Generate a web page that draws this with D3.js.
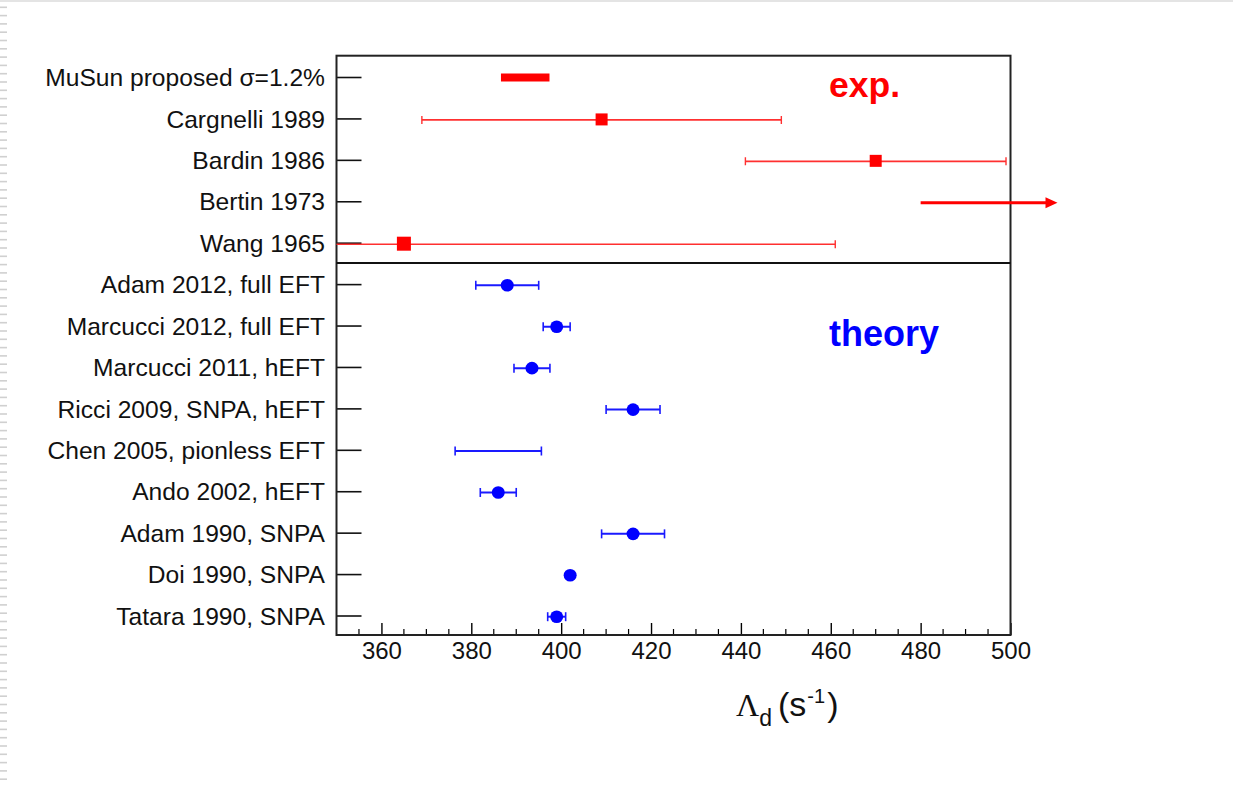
<!DOCTYPE html>
<html>
<head>
<meta charset="utf-8">
<script src="https://cdn.jsdelivr.net/npm/d3@7"></script>
<style>
  html, body { margin: 0; padding: 0; background: #fff; }
  svg { display: block; }
  text { font-family: "Liberation Sans", Arial, Helvetica, sans-serif; }
</style>
</head>
<body>
<svg id="chart" width="1233" height="785"></svg>
<script>
// ---------- data ----------
const expLabels = ["MuSun proposed σ=1.2%", "Cargnelli 1989", "Bardin 1986", "Bertin 1973", "Wang 1965"];
const expValues = [392, 409, 470, 480, 365];      // Bertin 1973: lower limit (arrow)
const expErrors = [5.4, 40, 29, 0, 96];
const expKind   = ["band", "point", "point", "limit", "point"];

const theoryLabels = ["Adam 2012, full EFT", "Marcucci 2012, full EFT", "Marcucci 2011, hEFT",
  "Ricci 2009, SNPA, hEFT", "Chen 2005, pionless EFT", "Ando 2002, hEFT",
  "Adam 1990, SNPA", "Doi 1990, SNPA", "Tatara 1990, SNPA"];
const theoryValues = [388, 399, 393.5, 416, 386, 386, 416, 402, 399];
const theoryErrors = [7, 3, 4, 6, 9.6, 4, 7, 0, 2];
const theoryMarker = [true, true, true, true, false, true, true, true, true];

const xTicks = [360, 380, 400, 420, 440, 460, 480, 500];
const xDomain = [350, 500];

// ---------- layout ----------
const svg = d3.select("#chart");
const frame = { left: 336.5, right: 1010.5, top: 55.7, bottom: 635 };
const allLabels = expLabels.concat(theoryLabels);

const x = d3.scaleLinear().domain(xDomain).range([frame.left, frame.right]);
const y = d3.scalePoint().domain(allLabels).range([77, 615.5]);

// decoration of the source slide: top rule and left dashed strip
svg.append("rect").attr("x", 0).attr("y", 0).attr("width", 1233).attr("height", 2).attr("fill", "#e4e4e4");
svg.append("g").selectAll("rect").data(d3.range(0, 785, 8.3)).join("rect")
  .attr("x", 0).attr("y", d => d + 6.5).attr("width", 7).attr("height", 1.6).attr("fill", "#d0d0d0");

const clipId = "plotclip";
svg.append("clipPath").attr("id", clipId).append("rect")
  .attr("x", frame.left).attr("y", frame.top)
  .attr("width", frame.right - frame.left).attr("height", frame.bottom - frame.top);

// ---------- axes ----------
const minorTicks = d3.range(355, 501, 5).filter(v => !xTicks.includes(v));
const axisG = svg.append("g");
axisG.selectAll("line.minor").data(minorTicks).join("line")
  .attr("x1", d => x(d)).attr("x2", d => x(d))
  .attr("y1", frame.bottom).attr("y2", frame.bottom - 6)
  .attr("stroke", "#000").attr("stroke-width", 1.2);
const xAxis = d3.axisBottom(x).tickValues(xTicks).tickSizeInner(-12).tickSizeOuter(0).tickPadding(16);
const gx = svg.append("g").attr("transform", `translate(0,${frame.bottom})`).call(xAxis);
gx.select(".domain").remove();
gx.selectAll(".tick line").attr("stroke", "#000").attr("stroke-width", 1.4);
gx.selectAll(".tick text").attr("font-size", 24).attr("fill", "#111")
  .attr("font-family", "Liberation Sans, Arial, sans-serif").attr("dy", "0.42em").attr("y", 14);

const yAxis = d3.axisLeft(y).tickSizeInner(-25).tickSizeOuter(0).tickPadding(12);
const gy = svg.append("g").attr("transform", `translate(${frame.left},0)`).call(yAxis);
gy.select(".domain").remove();
gy.selectAll(".tick line").attr("stroke", "#111").attr("stroke-width", 1.6);
gy.selectAll(".tick text").attr("font-size", 24.6).attr("fill", "#111")
  .attr("font-family", "Liberation Sans, Arial, sans-serif")
  .attr("x", -(frame.left - 325)).attr("dy", "0.35em");

// frame and divider
svg.append("rect").attr("x", frame.left).attr("y", frame.top)
  .attr("width", frame.right - frame.left).attr("height", frame.bottom - frame.top)
  .attr("fill", "none").attr("stroke", "#222").attr("stroke-width", 2);
const divY = (y(expLabels[expLabels.length - 1]) + y(theoryLabels[0])) / 2 - 0.5;
svg.append("line").attr("x1", frame.left).attr("x2", frame.right)
  .attr("y1", divY).attr("y2", divY).attr("stroke", "#111").attr("stroke-width", 2);

// ---------- experiment marks ----------
const red = "#ff0000";
const expData = expLabels.map((l, i) => ({ label: l, v: expValues[i], e: expErrors[i], kind: expKind[i] }));
const eg = svg.append("g").attr("clip-path", `url(#${clipId})`);

expData.filter(d => d.kind === "band").forEach(d => {
  eg.append("rect").attr("x", x(d.v - d.e)).attr("width", x(d.v + d.e) - x(d.v - d.e))
    .attr("y", y(d.label) - 3.5).attr("height", 8).attr("fill", red);
});
const expPts = expData.filter(d => d.kind === "point");
eg.selectAll("line.eb").data(expPts).join("line")
  .attr("x1", d => x(d.v - d.e)).attr("x2", d => x(d.v + d.e))
  .attr("y1", d => y(d.label) + 1.5).attr("y2", d => y(d.label) + 1.5)
  .attr("stroke", "#ff3030").attr("stroke-width", 1.6);
expPts.forEach(d => {
  [d.v - d.e, d.v + d.e].forEach(v => {
    eg.append("line").attr("x1", x(v)).attr("x2", x(v))
      .attr("y1", y(d.label) + 1.5 - 4).attr("y2", y(d.label) + 1.5 + 4)
      .attr("stroke", "#ff3030").attr("stroke-width", 1.4);
  });
});
eg.selectAll("rect.mk").data(expPts).join("rect")
  .attr("x", d => x(d.v) - (d.e > 60 ? 7 : 6)).attr("y", d => y(d.label) + 1 - (d.e > 60 ? 7 : 6))
  .attr("width", d => d.e > 60 ? 14 : 12).attr("height", d => d.e > 60 ? 14 : 12)
  .attr("fill", red);

expData.filter(d => d.kind === "limit").forEach(d => {
  const yy = y(d.label) + 1.5;
  const x0 = x(d.v), x1 = x(xDomain[1]) + 47;
  svg.append("line").attr("x1", x0).attr("x2", x1 - 8).attr("y1", yy).attr("y2", yy)
    .attr("stroke", red).attr("stroke-width", 3);
  svg.append("path").attr("d", `M${x1},${yy} L${x1 - 12},${yy - 5.5} L${x1 - 12},${yy + 5.5} Z`)
    .attr("fill", red);
});

// ---------- theory marks ----------
const blue = "#0000ff";
const thData = theoryLabels.map((l, i) => ({ label: l, v: theoryValues[i], e: theoryErrors[i], m: theoryMarker[i] }));
const tg = svg.append("g").attr("clip-path", `url(#${clipId})`);
const thErr = thData.filter(d => d.e > 0);
tg.selectAll("line.eb").data(thErr).join("line")
  .attr("x1", d => x(d.v - d.e)).attr("x2", d => x(d.v + d.e))
  .attr("y1", d => y(d.label) + 1.2).attr("y2", d => y(d.label) + 1.2)
  .attr("stroke", "#1a1aff").attr("stroke-width", 2);
thErr.forEach(d => {
  [d.v - d.e, d.v + d.e].forEach(v => {
    tg.append("line").attr("x1", x(v)).attr("x2", x(v))
      .attr("y1", y(d.label) + 1.2 - 4.5).attr("y2", y(d.label) + 1.2 + 4.5)
      .attr("stroke", "#1a1aff").attr("stroke-width", 1.6);
  });
});
tg.selectAll("ellipse.mk").data(thData.filter(d => d.m)).join("ellipse")
  .attr("cx", d => x(d.v)).attr("cy", d => y(d.label) + 1.2)
  .attr("rx", 6.5).attr("ry", 6.3).attr("fill", blue);

// ---------- annotations ----------
svg.append("text").attr("x", 829).attr("y", 97).attr("font-size", 35.5).attr("font-weight", "bold")
  .attr("fill", red).text("exp.");
svg.append("text").attr("x", 829).attr("y", 346).attr("font-size", 36).attr("font-weight", "bold")
  .attr("fill", blue).text("theory");

// x-axis title
const t = svg.append("text").attr("x", 736).attr("y", 716).attr("fill", "#111").attr("font-size", 34);
t.append("tspan").attr("font-family", "Liberation Serif, Times New Roman, serif").attr("font-size", 32).text("Λ");
t.append("tspan").attr("font-size", 23).attr("dy", 10).text("d");
t.append("tspan").attr("dx", 6).attr("dy", -10).text("(s");
t.append("tspan").attr("font-size", 20).attr("dy", -13).attr("dx", 1).text("-1");
t.append("tspan").attr("dy", 13).attr("dx", 2).text(")");
</script>
</body>
</html>
